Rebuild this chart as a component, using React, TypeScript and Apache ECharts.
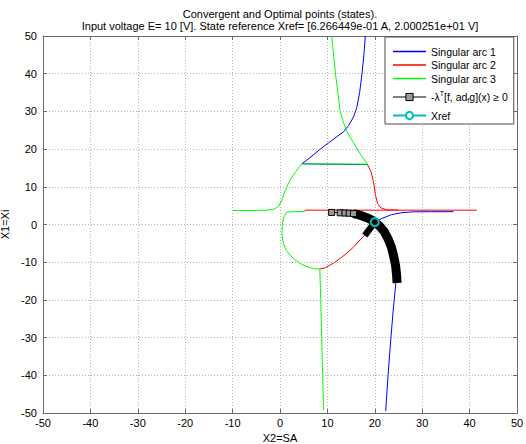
import React, { useEffect, useRef } from 'react';
import * as echarts from 'echarts';

const TITLE_LINES = [
  'Convergent and Optimal points (states).',
  'Input voltage E= 10 [V]. State reference Xref= [6.266449e-01 A, 2.000251e+01 V]',
];
const X_LABEL = 'X2=SA';
const Y_LABEL = 'X1=Xi';
const AXIS_MIN = -50;
const AXIS_MAX = 50;
const AXIS_STEP = 10;

const NAME_ARC1 = 'Singular arc 1';
const NAME_ARC2 = 'Singular arc 2';
const NAME_ARC3 = 'Singular arc 3';
const NAME_COND = '-λT[f, adfg](x) ≥ 0';
const NAME_XREF = 'Xref';

// Singular arc 1 (blue)
const arc1Upper: number[][] = [
  [18.0, 50], [17.7, 45], [17.3, 40], [16.8, 35], [16.2, 31], [15.5, 28.5], [14.5, 26.3],
  [13.4, 24.6], [12.0, 23.3], [10.2, 21.6], [8.3, 19.8], [6.3, 17.7], [4.6, 16.1],
  [10.0, 16.0], [18.5, 15.9],
];
const arc1Lower: number[][] = [
  [22.3, -49.5], [22.8, -40], [23.4, -30], [23.9, -22.5], [24.4, -16], [24.3, -11],
  [23.6, -6], [22.3, -2.3], [20.0, 0.63], [21.5, 1.6], [23.5, 2.6], [25.5, 3.1],
  [28.0, 3.35], [32.0, 3.4], [36.6, 3.4],
];

// Singular arc 2 (red)
const arc2Upper: number[][] = [
  [18.5, 15.8], [19.2, 14], [19.6, 12], [19.9, 10], [20.1, 8], [20.6, 5.5], [21.3, 4.4],
  [22.5, 3.9], [25.0, 3.8],
];
const arc2Flat: number[][] = [[5.2, 3.8], [41.5, 3.8]];
const arc2Lower: number[][] = [
  [8.4, -11.8], [9.5, -11.5], [11.2, -10.3], [12.7, -9], [14.1, -7.6], [15.5, -6],
  [16.9, -4.1], [17.9, -2.8], [19.0, -1.0], [20.0, 0.63],
];

// Singular arc 3 (green)
const arc3Top: number[][] = [
  [10.9, 50], [11.3, 45], [11.7, 40], [12.2, 35], [12.7, 30], [13.4, 27], [14.2, 24.5],
  [15.2, 22.3], [16.3, 20], [17.3, 18], [18.5, 16],
];
const arc3Left: number[][] = [
  [18.5, 16], [12.0, 16.05], [4.6, 16.1], [3.3, 14], [2.1, 11.8], [1.1, 9], [0.4, 6.5],
  [-0.3, 4.8], [-1.2, 4.1], [-2.8, 3.8], [-5.0, 3.7], [-10.0, 3.7],
];
const arc3Loop: number[][] = [
  [5.3, 3.5], [1.5, 3.3], [0.8, 2.0], [0.5, 0], [0.4, -2.3], [0.7, -5], [1.3, -6.8],
  [2.1, -8.1], [3.1, -9.3], [4.2, -10.3], [5.5, -11.1], [7.0, -11.7], [8.4, -11.8],
  [8.6, -20], [8.8, -30], [9.0, -40], [9.2, -49.3],
];

// -lambda^T [f, ad_f g](x) >= 0 (black)
const condMarkers: number[][] = [[10.9, 3.2], [12.7, 3.1], [13.7, 3.05], [14.6, 3.0], [15.5, 2.9]];
const condThick: number[][] = [
  [15.5, 2.9], [16.5, 2.6], [17.5, 2.2], [18.5, 1.7], [19.3, 1.2], [20.0, 0.63], [21.0, -0.4],
  [22.0, -1.9], [22.8, -3.8], [23.5, -6], [24.0, -8.5], [24.4, -11], [24.6, -13.5], [24.7, -15.5],
];
const condSpur: number[][] = [[20.0, 0.63], [17.9, -2.9]];

// Xref
const xref: number[][] = [[20.00251, 0.6266449]];

const BLUE = '#0000ff';
const RED = '#ff0000';
const GREEN = '#00ff00';
const BLACK = '#000000';
const CYAN = '#00bfbf';
const FONT = '"Liberation Sans", Arial, sans-serif';

function seg(name: string, color: string, data: number[][], width = 1, extra: any = {}) {
  return {
    type: 'line',
    name,
    data,
    xAxisIndex: 0,
    yAxisIndex: 0,
    symbol: 'none',
    lineStyle: { color, width, cap: 'butt', join: 'miter' },
    itemStyle: { color },
    silent: true,
    ...extra,
  };
}

const HIDDEN_SYMBOL = {
  color: 'rgba(0,0,0,0)',
  borderColor: 'rgba(0,0,0,0)',
  borderWidth: 0,
  opacity: 0,
};

export default function App() {
  const ref = useRef<HTMLDivElement>(null);
  useEffect(() => {
    if (!ref.current) return;
    const chart = echarts.init(ref.current, null, { renderer: 'svg' });
    const axisCommon = {
      type: 'value',
      min: AXIS_MIN,
      max: AXIS_MAX,
      interval: AXIS_STEP,
      axisLine: { show: true, onZero: false, lineStyle: { color: '#6a6a6a', width: 1 } },
      axisTick: { show: true, inside: true, length: 4, lineStyle: { color: '#6a6a6a' } },
    };
    chart.setOption({
      animation: false,
      backgroundColor: '#ffffff',
      textStyle: { fontFamily: FONT },
      title: {
        text: TITLE_LINES.join('\n'),
        left: 280,
        textAlign: 'center',
        top: 8.5,
        padding: 0,
        textStyle: { fontSize: 11, fontWeight: 'normal', color: '#000', lineHeight: 11.5, fontFamily: FONT },
      },
      grid: { left: 43, right: 9, top: 36, bottom: 31, show: false, outerBoundsMode: 'none', containLabel: false },
      xAxis: [
        {
          ...axisCommon,
          position: 'bottom',
          name: X_LABEL,
          nameLocation: 'middle',
          nameGap: 18,
          nameTextStyle: { fontSize: 11, color: '#000', fontFamily: FONT },
          axisLabel: { fontSize: 11, color: '#000', margin: 4, fontFamily: FONT },
          splitLine: { show: true, lineStyle: { color: '#b4b4b4', type: [1, 2], width: 1 } },
        },
        {
          ...axisCommon,
          position: 'top',
          axisLabel: { show: false },
          splitLine: { show: false },
        },
      ],
      yAxis: [
        {
          ...axisCommon,
          position: 'left',
          name: Y_LABEL,
          nameLocation: 'middle',
          nameGap: 24,
          nameTextStyle: { fontSize: 11, color: '#000', fontFamily: FONT },
          axisLabel: { fontSize: 11, color: '#000', margin: 6, fontFamily: FONT },
          splitLine: { show: true, lineStyle: { color: '#b4b4b4', type: [1, 2], width: 1 } },
        },
        {
          ...axisCommon,
          position: 'right',
          axisLabel: { show: false },
          splitLine: { show: false },
        },
      ],
      legend: {
        orient: 'vertical',
        left: 385,
        top: 37,
        padding: [9, 6, 3, 7],
        itemGap: 2.5,
        itemWidth: 33,
        itemHeight: 9,
        borderColor: '#4d4d4d',
        borderWidth: 1,
        backgroundColor: '#ffffff',
        selectedMode: false,
        data: [
          { name: NAME_ARC1, itemStyle: HIDDEN_SYMBOL, lineStyle: { color: BLUE, width: 1.3 } },
          { name: NAME_ARC2, itemStyle: HIDDEN_SYMBOL, lineStyle: { color: RED, width: 1.3 } },
          { name: NAME_ARC3, itemStyle: HIDDEN_SYMBOL, lineStyle: { color: GREEN, width: 1.3 } },
          {
            name: NAME_COND,
            lineStyle: { color: BLACK, width: 1 },
            itemStyle: { color: '#9a9a9a', borderColor: BLACK, borderWidth: 1 },
            textStyle: { padding: [3.5, 0, 3.5, 0], backgroundColor: 'rgba(255,255,255,0.01)' },
          },
          {
            name: NAME_XREF,
            lineStyle: { color: CYAN, width: 2 },
            itemStyle: { color: '#ffffff', borderColor: CYAN, borderWidth: 2 },
          },
        ],
        formatter: (name: string) =>
          name === NAME_COND ? '{m|-λ}{sup|T}{m|[f, ad}{sub|f}{m|g](x) ≥ 0}' : name,
        textStyle: {
          fontSize: 10.5,
          color: '#000',
          fontFamily: FONT,
          rich: {
            m: { fontSize: 10.5, fontFamily: FONT, color: '#000' },
            sup: { fontSize: 7, padding: [0, 0, 7, 0], fontFamily: FONT, color: '#000' },
            sub: { fontSize: 7, padding: [6, 0, 0, 0], fontFamily: FONT, color: '#000' },
          },
        },
      },
      series: [
        seg(NAME_ARC1, BLUE, arc1Upper, 1, { z: 3 }),
        seg(NAME_ARC1, BLUE, arc1Lower),
        seg(NAME_ARC2, RED, arc2Upper),
        seg(NAME_ARC2, RED, arc2Flat),
        seg(NAME_ARC2, RED, arc2Lower),
        seg(NAME_ARC3, GREEN, arc3Top),
        seg(NAME_ARC3, GREEN, arc3Left),
        seg(NAME_ARC3, GREEN, arc3Loop),
        seg(NAME_COND, BLACK, condMarkers, 1, {
          symbol: 'rect',
          symbolSize: 6,
          showSymbol: true,
          z: 4,
          itemStyle: { color: '#9a9a9a', borderColor: BLACK, borderWidth: 1 },
        }),
        seg(NAME_COND, BLACK, condThick, 9, { z: 4 }),
        seg(NAME_COND, BLACK, condSpur, 6.5, { z: 4 }),
        seg(NAME_XREF, CYAN, xref, 2, {
          symbol: 'circle',
          symbolSize: 8,
          showSymbol: true,
          z: 5,
          itemStyle: { color: 'rgba(0,0,0,0)', borderColor: CYAN, borderWidth: 2 },
        }),
      ],
    });
    return () => chart.dispose();
  }, []);
  return (
    <div
      ref={ref}
      style={{ position: 'fixed', left: 0, top: 0, width: 526, height: 444, background: '#fff' }}
    />
  );
}
